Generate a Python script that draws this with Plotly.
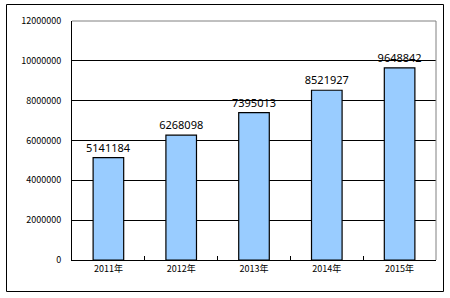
import plotly.graph_objects as go

categories = ["2011年", "2012年", "2013年", "2014年", "2015年"]
values = [5141184, 6268098, 7395013, 8521927, 9648842]
tick_vals = [0, 2000000, 4000000, 6000000, 8000000, 10000000, 12000000]
tick_text = [str(v) for v in tick_vals]

W, H = 450, 298
L, R, T, B = 72, 14, 21, 38
pw, ph = W - L - R, H - T - B

def px(x):
    return (x - L) / pw

def py(y):
    return (H - B - y) / ph

font = dict(family="Noto Sans CJK SC, SimSun, sans-serif", size=9, color="#000000")
label_font = dict(family="Noto Sans, sans-serif", size=11, color="#000000")

fig = go.Figure(go.Bar(
    x=categories, y=values,
    marker=dict(color="#99ccff", line=dict(color="#000000", width=1.2)),
    width=0.42,
    text=[str(v) for v in values], textposition="outside",
    textfont=label_font, cliponaxis=False, constraintext="none",
))

fig.update_layout(
    width=W, height=H,
    margin=dict(l=L, r=R, t=T, b=B),
    paper_bgcolor="white", plot_bgcolor="white",
    font=font, showlegend=False,
    uniformtext=dict(mode=False),
    xaxis=dict(type="category", showline=True, linecolor="#000000", linewidth=1,
               ticks="inside", ticklen=4, tickcolor="#000000", tickson="boundaries",
               showgrid=False, tickfont=font),
    yaxis=dict(range=[0, 12000000], tickvals=tick_vals, ticktext=tick_text,
               showline=True, linecolor="#000000", linewidth=1,
               showgrid=True, gridcolor="#000000", gridwidth=1,
               zeroline=False, ticks="", tickfont=font, ticklabelstandoff=8),
    shapes=[
        dict(type="line", xref="paper", yref="paper", x0=0, x1=1, y0=1, y1=1,
             line=dict(color="#808080", width=1)),
        dict(type="line", xref="paper", yref="paper", x0=1, x1=1, y0=0, y1=1,
             line=dict(color="#808080", width=1)),
        dict(type="rect", xref="paper", yref="paper",
             x0=px(6.5), x1=px(443.5), y0=py(291.5), y1=py(4.5),
             line=dict(color="#000000", width=1), layer="below"),
    ],
)

fig.write_html("out.html")
